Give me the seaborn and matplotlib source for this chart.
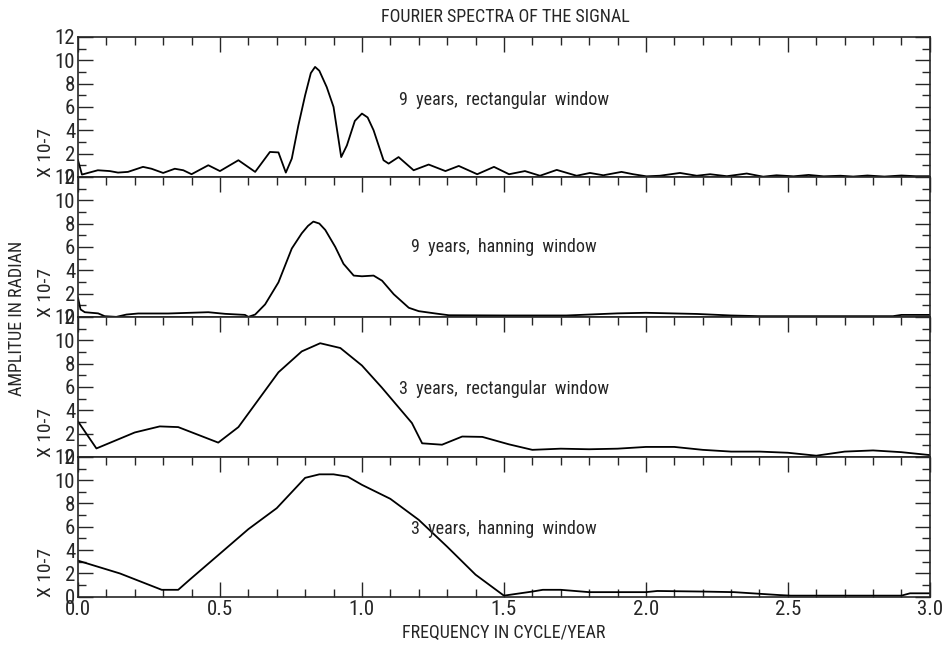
import numpy as np
import pandas as pd
import matplotlib
matplotlib.use("Agg")
import matplotlib.pyplot as plt
import seaborn as sns
from matplotlib.ticker import MultipleLocator, FormatStrFormatter

# ---- data (amplitude x 1e-7 rad) ----
freq_9r = [0.0, 0.014, 0.07, 0.112, 0.141, 0.176, 0.229, 0.259, 0.3, 0.341, 0.371, 0.4, 0.459, 0.5,
           0.565, 0.624, 0.676, 0.706, 0.732, 0.753, 0.776, 0.80, 0.82, 0.835, 0.85, 0.876, 0.9,
           0.927, 0.947, 0.975, 1.0, 1.02,
           1.041, 1.076, 1.094, 1.129, 1.182, 1.235, 1.294, 1.341, 1.406, 1.465, 1.518, 1.574,
           1.627, 1.686, 1.756, 1.803, 1.85, 1.914, 1.955, 2.002, 2.049, 2.12, 2.179, 2.226, 2.285,
           2.355, 2.413, 2.46, 2.52, 2.573, 2.626, 2.685, 2.73, 2.78, 2.84, 2.9, 2.95, 3.0]
amp_9r = [1.45, 0.2, 0.57, 0.5, 0.37, 0.43, 0.86, 0.7, 0.34, 0.7, 0.57, 0.23, 1.0, 0.5,
          1.43, 0.43, 2.14, 2.1, 0.37, 1.57, 4.4, 7.0, 8.9, 9.43, 9.1, 7.7, 6.0,
          1.7, 2.7, 4.8, 5.43, 5.1,
          4.0, 1.43, 1.14, 1.7, 0.57, 1.06, 0.5, 0.94, 0.23, 0.86, 0.23, 0.5,
          0.1, 0.6, 0.1, 0.34, 0.14, 0.43, 0.23, 0.05, 0.1, 0.34, 0.1, 0.23, 0.06,
          0.29, 0.02, 0.14, 0.05, 0.17, 0.05, 0.1, 0.03, 0.12, 0.03, 0.12, 0.06, 0.06]

freq_9h = [0.0, 0.009, 0.024, 0.071, 0.094, 0.135, 0.171, 0.212, 0.318, 0.459, 0.518, 0.588, 0.6,
           0.624, 0.659, 0.706, 0.753, 0.788, 0.81, 0.829, 0.85, 0.871, 0.906, 0.935, 0.971, 1.0,
           1.041, 1.071, 1.112, 1.165, 1.2, 1.259, 1.306, 1.506, 1.72, 1.9, 2.0, 2.18, 2.3, 2.4,
           2.87, 2.9, 3.0]
amp_9h = [1.65, 0.64, 0.4, 0.3, 0.06, 0.0, 0.2, 0.29, 0.29, 0.4, 0.26, 0.17, 0.0,
          0.2, 1.07, 2.96, 5.86, 7.16, 7.8, 8.17, 8.0, 7.45, 6.0, 4.55, 3.54, 3.48,
          3.54, 3.1, 1.94, 0.78, 0.49, 0.29, 0.14, 0.12, 0.12, 0.3, 0.35, 0.25, 0.12, 0.06,
          0.06, 0.17, 0.17]

freq_3r = [0.0, 0.065, 0.2, 0.288, 0.353, 0.494, 0.565, 0.706, 0.788, 0.853, 0.924, 1.0, 1.07,
           1.176, 1.212, 1.282, 1.353, 1.424, 1.518, 1.6, 1.7, 1.8, 1.9, 2.0, 2.1, 2.2, 2.3, 2.4,
           2.5, 2.6, 2.7, 2.8, 2.9, 3.0]
amp_3r = [3.04, 0.72, 2.09, 2.61, 2.55, 1.22, 2.55, 7.25, 9.04, 9.74, 9.33, 7.83, 5.94,
          2.9, 1.16, 1.04, 1.74, 1.71, 1.07, 0.6, 0.7, 0.65, 0.7, 0.85, 0.85, 0.6, 0.45, 0.45,
          0.35, 0.1, 0.45, 0.55, 0.4, 0.15]

freq_3h = [0.0, 0.148, 0.295, 0.353, 0.394, 0.5, 0.6, 0.7, 0.75, 0.8, 0.85, 0.9, 0.95, 1.0,
           1.1, 1.2, 1.3, 1.4, 1.5, 1.6, 1.637, 1.7, 1.8, 1.9, 2.0, 2.04, 2.2, 2.31, 2.47, 2.51,
           2.9, 2.93, 3.0]
amp_3h = [3.1, 2.0, 0.6, 0.6, 1.48, 3.7, 5.8, 7.6, 8.9, 10.2, 10.5, 10.5, 10.3, 9.6,
          8.4, 6.6, 4.3, 1.9, 0.1, 0.45, 0.6, 0.6, 0.4, 0.4, 0.4, 0.5, 0.45, 0.4, 0.15, 0.1,
          0.1, 0.3, 0.3]

labels = ["9  years,  rectangular  window", "9  years,  hanning  window",
          "3  years,  rectangular  window", "3  years,  hanning  window"]
label_y = [6.6, 6.0, 5.8, 5.8]

series = [(freq_9r, amp_9r), (freq_9h, amp_9h), (freq_3r, amp_3r), (freq_3h, amp_3h)]

sns.set_style("ticks")
fam = ['Roboto Condensed', 'DejaVu Sans']
plt.rcParams['font.family'] = fam
plt.rcParams['axes.linewidth'] = 1.2

fig, axes = plt.subplots(4, 1, figsize=(9.45, 6.48), dpi=100, sharex=True)
fig.subplots_adjust(left=0.0825, right=0.984, top=0.943, bottom=0.079, hspace=0)

for i, ax in enumerate(axes):
    f, a = series[i]
    df = pd.DataFrame({"freq": f, "amp": a})
    sns.lineplot(data=df, x="freq", y="amp", ax=ax, color="black", linewidth=1.3,
                 estimator=None, sort=False)
    ax.set_xlim(0, 3)
    ax.set_ylim(0, 12)
    ax.xaxis.set_major_locator(MultipleLocator(0.5))
    ax.xaxis.set_minor_locator(MultipleLocator(0.1))
    ax.yaxis.set_major_locator(MultipleLocator(2))
    ax.yaxis.set_minor_locator(MultipleLocator(1))
    ax.xaxis.set_major_formatter(FormatStrFormatter('%.1f'))
    ax.tick_params(axis='both', which='major', direction='in', length=11, width=1.0,
                   labelsize=15, pad=2)
    ax.tick_params(axis='both', which='minor', direction='in', length=6, width=1.0)
    ax.tick_params(axis='y', which='both', left=True, right=True)
    last = (i == 3)
    ax.tick_params(axis='x', which='both', top=True, bottom=last, labelbottom=last)
    ax.set_xlabel("")
    ax.set_ylabel("")
    ax.text(1.5, label_y[i], labels[i], ha='center', va='center', fontsize=13)
    ax.text(-0.038, 0.0, "X 10-7", transform=ax.transAxes, rotation=90,
            ha='center', va='bottom', fontsize=14)

fig.text(505 / 945, 1 - 17 / 648, "FOURIER SPECTRA OF THE SIGNAL", ha='center',
         va='center', fontsize=13)
fig.text(504 / 945, 1 - 633 / 648, "FREQUENCY IN CYCLE/YEAR", ha='center',
         va='center', fontsize=13)
fig.text(17 / 945, 1 - 318 / 648, "AMPLITUE IN RADIAN", ha='center', va='center',
         rotation=90, fontsize=13)

fig.savefig("out.png", dpi=100)
